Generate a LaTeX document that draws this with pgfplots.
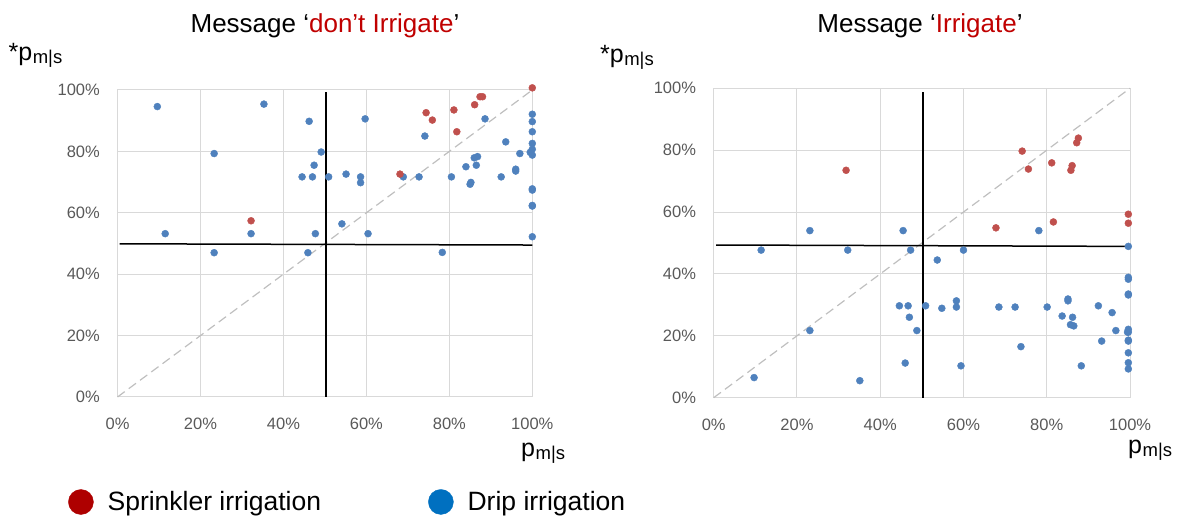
\documentclass[border=0pt]{standalone}
\usepackage{pgfplots}
\pgfplotsset{compat=1.18}
\usepackage{fontspec}
\setmainfont{Liberation Sans}
\definecolor{gridgray}{HTML}{D9D9D9}
\definecolor{tickgray}{HTML}{595959}
\definecolor{dotblue}{HTML}{4F81BD}
\definecolor{dotred}{HTML}{C0504D}
\definecolor{titlered}{HTML}{C00000}
\definecolor{legred}{HTML}{AE0000}
\definecolor{legblue}{HTML}{0070C0}
\definecolor{diaggray}{HTML}{BFBFBF}
\pgfplotsset{
  myaxis/.style={
    scale only axis, xmin=0, xmax=100, ymin=0, ymax=100, clip=false,
    xtick={0,20,40,60,80,100}, ytick={0,20,40,60,80,100},
    xticklabels={0\%,20\%,40\%,60\%,80\%,100\%},
    yticklabels={0\%,20\%,40\%,60\%,80\%,100\%},
    grid=major, major grid style={draw=gridgray, line width=1pt},
    axis line style={draw=gridgray, line width=1pt},
    major tick length=0pt,
    tick label style={font=\fontsize{16.5}{19}\selectfont, text=tickgray},
    xticklabel style={anchor=north, inner sep=0pt, yshift=-21pt},
    yticklabel style={anchor=east, inner sep=0pt, xshift=-17.5pt},
    legend style={draw=none, fill=none, inner sep=0pt, column sep=14pt,
      nodes={inner sep=0pt}, font=\fontsize{26.5}{30}\selectfont, cells={anchor=west}},
  },
  bdots/.style={only marks, mark=*, mark size=3.5pt, color=dotblue, mark options={draw=none, fill=dotblue}, forget plot},
  rdots/.style={only marks, mark=*, mark size=3.5pt, color=dotred, mark options={draw=none, fill=dotred}, forget plot},
  blackline/.style={black, line width=1.5pt, forget plot},
  diagline/.style={diaggray, line width=1.2pt, dash pattern=on 9pt off 5pt, forget plot},
}
\newcommand{\pms}{p\kern0.5pt\raisebox{-3pt}{\fontsize{18.5}{20}\selectfont m|s}}
\begin{document}
\begin{tikzpicture}
\path[use as bounding box] (0,0) rectangle (1184pt,518pt);
% ---------------- left axis
\begin{axis}[myaxis, at={(117.5pt,121pt)}, anchor=south west, width=414.8pt, height=307pt,
  legend style={at={(-0.1193,-0.342)}, anchor=west}]
\addplot[diagline] coordinates {(0,0) (100,100)};
\addplot[blackline] coordinates {(50.3,0) (50.3,99.4)};
\addplot[blackline] coordinates {(0.5,49.9) (100,49.5)};
\addplot[bdots] coordinates {
(9.6,94.6) (35.3,95.4) (46.2,89.8) (23.3,79.3) (49.1,79.8) (47.4,75.5)
(44.5,71.7) (47.0,71.7) (50.9,71.7) (55.1,72.6) (11.5,53.2) (32.2,53.2)
(47.7,53.2) (54.1,56.4) (23.3,47.0) (45.9,47.0) (59.7,90.6) (88.6,90.6)
(74.1,85.0) (100,92.1) (100,89.7) (100,86.4) (100,82.6) (100,80.7)
(99.5,79.7) (100,78.8) (93.6,83.1) (97.0,79.3) (86.0,77.9) (86.8,78.3)
(84.0,75.0) (86.5,75.5) (96.0,74.2) (96.0,73.6) (92.5,71.7) (85.2,69.9)
(85.0,69.3) (80.5,71.7) (68.9,71.7) (72.7,71.7) (58.6,71.7) (58.6,69.8)
(100,67.8) (100,67.4) (100,62.4) (100,62.2) (100,52.2) (60.4,53.2) (78.3,47.1)
};
\addplot[rdots] coordinates {
(32.2,57.4) (74.4,92.6) (75.9,90.2) (81.1,93.5) (86.1,95.2) (87.4,97.8)
(88.0,97.8) (100,100.7) (81.8,86.4) (68.1,72.6)
};
\addlegendimage{legend image code/.code={\fill[legred] (12.5pt,0pt) circle[radius=12.5pt];}}
\addlegendentry{Sprinkler irrigation}
\end{axis}
% ---------------- right axis
\begin{axis}[myaxis, at={(713.7pt,120.3pt)}, anchor=south west, width=416.3pt, height=309.4pt,
  legend style={at={(-0.6863,-0.337)}, anchor=west}]
\addplot[diagline] coordinates {(0,0) (100,100)};
\addplot[blackline] coordinates {(50.3,0) (50.3,98.9)};
\addplot[blackline] coordinates {(0.6,49.35) (100,48.9)};
\addplot[bdots] coordinates {
(23.1,54.0) (45.5,54.0) (11.4,47.7) (32.2,47.7) (47.3,47.7) (53.7,44.5)
(60.0,47.7) (78.1,54.0) (99.6,48.9) (99.6,38.9) (99.6,38.3) (99.6,33.5)
(99.6,33.2) (44.6,29.7) (46.7,29.7) (47.0,26.0) (50.9,29.7) (54.8,28.9)
(58.3,31.3) (58.3,29.3) (48.8,21.7) (68.5,29.3) (72.4,29.3) (80.1,29.3)
(85.1,31.9) (85.1,31.3) (83.7,26.4) (86.2,26.0) (85.7,23.6) (86.5,23.2)
(92.4,29.7) (95.7,27.5) (96.6,21.7) (99.6,22.1) (99.6,21.2) (99.4,21.2)
(99.6,18.6) (99.6,18.3) (99.6,14.5) (99.6,11.3) (99.6,9.3) (93.2,18.3)
(88.3,10.3) (73.8,16.5) (59.4,10.3) (46.0,11.2) (23.1,21.7) (9.7,6.5) (35.1,5.5)
};
\addplot[rdots] coordinates {
(31.8,73.5) (67.8,54.9) (81.6,56.8) (74.1,79.7) (75.6,73.9) (81.2,75.9)
(86.1,75.0) (85.8,73.5) (87.6,83.9) (87.2,82.4) (99.6,59.3) (99.6,56.4)
};
\addlegendimage{legend image code/.code={\fill[legblue] (12.5pt,0pt) circle[radius=12.5pt];}}
\addlegendentry{Drip irrigation}
\end{axis}
% ---------------- titles and labels
\node[anchor=base, inner sep=0pt, font=\fontsize{26}{30}\selectfont] at (325pt,485pt)
  {Message ‘\textcolor{titlered}{don’t Irrigate}’};
\node[anchor=base, inner sep=0pt, font=\fontsize{26}{30}\selectfont] at (920pt,485pt)
  {Message ‘\textcolor{titlered}{Irrigate}’};
\node[anchor=base west, inner sep=0pt, font=\fontsize{25}{30}\selectfont] at (8.5pt,457pt) {*\pms};
\node[anchor=base west, inner sep=0pt, font=\fontsize{25}{30}\selectfont] at (600pt,455pt) {*\pms};
\node[anchor=base west, inner sep=0pt, font=\fontsize{25}{30}\selectfont] at (521pt,61pt) {\pms};
\node[anchor=base west, inner sep=0pt, font=\fontsize{25}{30}\selectfont] at (1128pt,64pt) {\pms};
\end{tikzpicture}
\end{document}
